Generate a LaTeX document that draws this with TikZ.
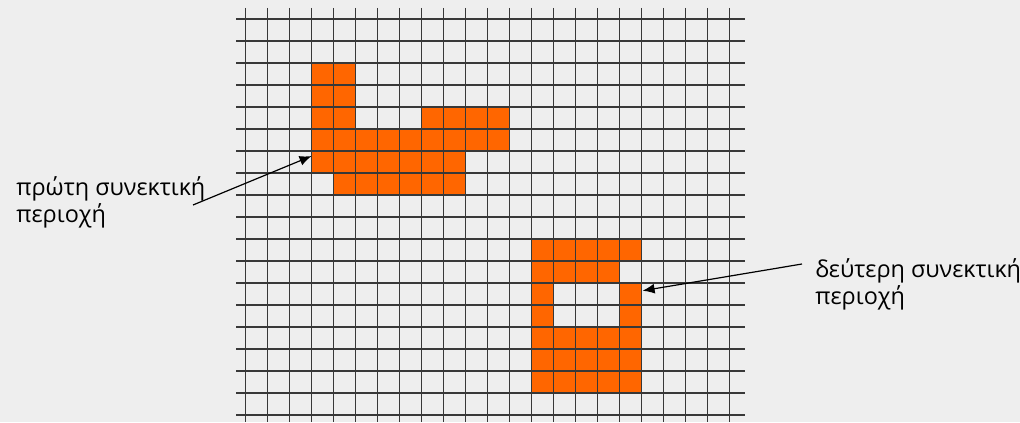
\documentclass[tikz,border=0pt]{standalone}
\usepackage{fontspec}
\setmainfont{Open Sans}
\usetikzlibrary{arrows.meta, positioning}
\definecolor{blob}{RGB}{255,102,0}
\definecolor{paper}{RGB}{238,238,238}
\tikzstyle{cellfill}=[fill=blob]
\tikzstyle{gridline}=[draw=black!78, line width=0.75pt]
\tikzstyle{regionlabel}=[align=left, anchor=west, inner sep=0pt, text=black, font=\fontsize{11.7}{13.4}\selectfont]
\newcommand{\patch}[4]{\fill[cellfill] (#1,#2) rectangle (#3+1,#4+1);}

\begin{document}
\begin{tikzpicture}[x=0.5pt, y=-0.5pt, >={Latex[length=6pt,width=5pt]}]
    \fill[paper] (0,0) rectangle (1020,422);
    \useasboundingbox (0,0) rectangle (1020,422);
    \begin{scope}[shift={(245.5,19)}, x=11pt, y=-11pt]
        % first region
        \patch{3}{2}{4}{4}
        \patch{8}{4}{11}{4}
        \patch{3}{5}{11}{5}
        \patch{3}{6}{9}{6}
        \patch{4}{7}{9}{7}
        % second region
        \patch{13}{10}{17}{10}
        \patch{13}{11}{16}{11}
        \patch{13}{12}{13}{13}
        \patch{17}{12}{17}{13}
        \patch{13}{14}{17}{16}
        % grid
        \foreach \i in {0,...,22} \draw[gridline] (\i,-0.5) -- (\i,18.3);
        \foreach \j in {0,...,18} \draw[gridline] (-0.43,\j) -- (22.7,\j);
        \coordinate (hitA) at (3,6.23);
        \coordinate (hitB) at (18.05,12.35);
    \end{scope}
    \node[regionlabel] (first) at (16,202) {πρώτη συνεκτική\\περιοχή};
    \node[regionlabel] (second) at (815,284) {δεύτερη συνεκτική\\περιοχή};
    \coordinate (tailA) at (193,205);
    \coordinate (tailB) at (802,264);
    \draw[->, line width=0.6pt] (tailA) -- (hitA);
    \draw[->, line width=0.6pt] (tailB) -- (hitB);
\end{tikzpicture}
\end{document}
